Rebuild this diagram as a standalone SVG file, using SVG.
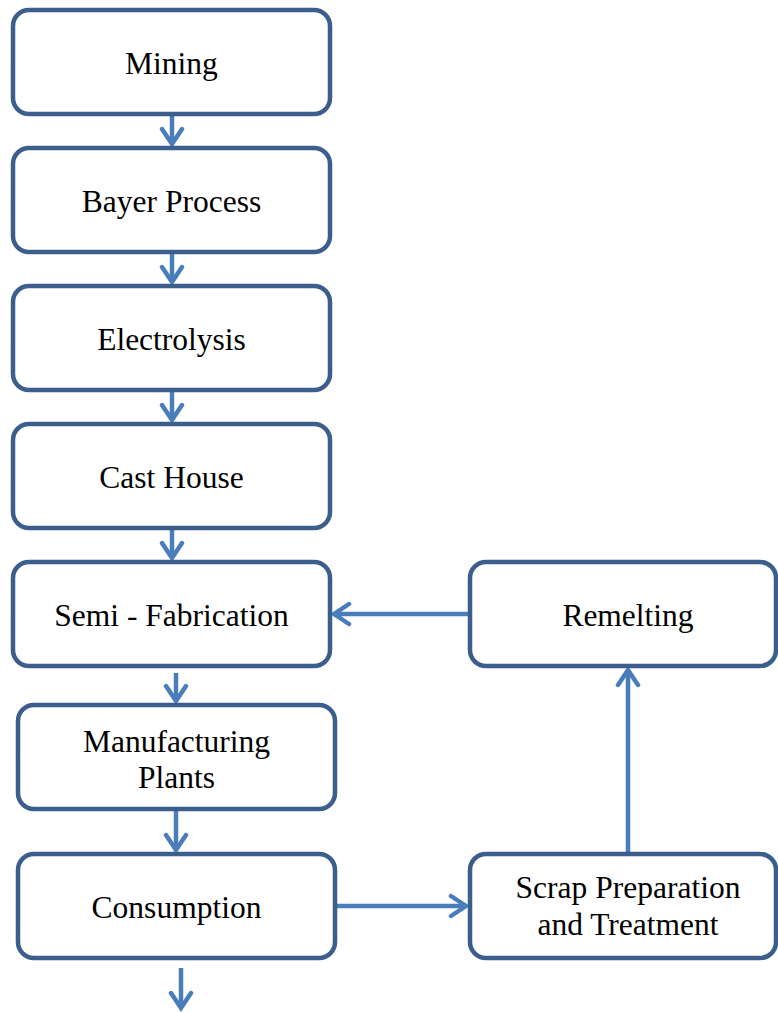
<svg xmlns="http://www.w3.org/2000/svg" width="778" height="1012" viewBox="0 0 778 1012">
<defs>
<style>
.box{fill:#fff;stroke:#3b5e8c;stroke-width:4.5}
.t{font-family:"Liberation Serif","Times New Roman",serif;font-size:31.5px;fill:#000;text-anchor:middle}
.c{stroke:#4a7ebb;stroke-width:4.5;fill:none}
</style>
<marker id="ah" markerUnits="userSpaceOnUse" viewBox="-20 -14 24 28" markerWidth="24" markerHeight="28" refX="0" refY="0" orient="auto">
<path d="M-15,-10 L0,0 L-15,10" fill="none" stroke="#4a7ebb" stroke-width="4.5" stroke-linecap="round" stroke-linejoin="miter"/>
</marker>
</defs>
<rect width="778" height="1012" fill="#fff"/>
<g id="connectors">
<line class="c" x1="172" y1="115" x2="172" y2="144" marker-end="url(#ah)"/>
<line class="c" x1="172" y1="253" x2="172" y2="282" marker-end="url(#ah)"/>
<line class="c" x1="172" y1="391" x2="172" y2="420" marker-end="url(#ah)"/>
<line class="c" x1="172" y1="529" x2="172" y2="558" marker-end="url(#ah)"/>
<line class="c" x1="176" y1="673" x2="176" y2="701" marker-end="url(#ah)"/>
<line class="c" x1="176" y1="810" x2="176" y2="850" marker-end="url(#ah)"/>
<line class="c" x1="181" y1="968" x2="181" y2="1008" marker-end="url(#ah)"/>
<line class="c" x1="468" y1="614" x2="334" y2="614" marker-end="url(#ah)"/>
<line class="c" x1="336" y1="906" x2="466" y2="906" marker-end="url(#ah)"/>
<line class="c" x1="628" y1="852" x2="628" y2="670" marker-end="url(#ah)"/>
</g>
<g id="mining"><rect class="box" x="13" y="10" width="317" height="104" rx="16"/><text class="t" x="171.5" y="74">Mining</text></g>
<g id="bayer"><rect class="box" x="13" y="148" width="317" height="104" rx="16"/><text class="t" x="171.5" y="212">Bayer Process</text></g>
<g id="electrolysis"><rect class="box" x="13" y="286" width="317" height="104" rx="16"/><text class="t" x="171.5" y="350">Electrolysis</text></g>
<g id="casthouse"><rect class="box" x="13" y="424" width="317" height="104" rx="16"/><text class="t" x="171.5" y="488">Cast House</text></g>
<g id="semifab"><rect class="box" x="13" y="562" width="317" height="104" rx="16"/><text class="t" x="171.5" y="626">Semi - Fabrication</text></g>
<g id="manufacturing"><rect class="box" x="18" y="705" width="317" height="104" rx="16"/><text class="t" x="176.5" y="752">Manufacturing</text><text class="t" x="176.5" y="788">Plants</text></g>
<g id="consumption"><rect class="box" x="18" y="854" width="317" height="104" rx="16"/><text class="t" x="176.5" y="918">Consumption</text></g>
<g id="remelting"><rect class="box" x="470" y="562" width="306" height="104" rx="16"/><text class="t" x="628" y="626">Remelting</text></g>
<g id="scrap"><rect class="box" x="470" y="854" width="306" height="104" rx="16"/><text class="t" x="628" y="898">Scrap Preparation</text><text class="t" x="628" y="935">and Treatment</text></g>
</svg>
